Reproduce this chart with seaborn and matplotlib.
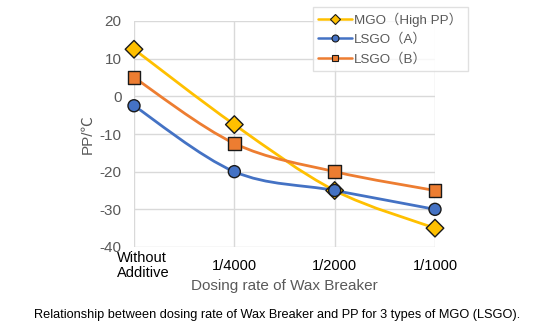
import numpy as np
import pandas as pd
import seaborn as sns
import matplotlib.pyplot as plt
import matplotlib.transforms as mtransforms
from matplotlib.path import Path
from matplotlib.patches import PathPatch
from matplotlib.lines import Line2D

categories = ["Without\nAdditive", "1/4000", "1/2000", "1/1000"]
mgo_high_pp = [12.5, -7.5, -25, -35]
lsgo_a = [-2.5, -20, -25, -30]
lsgo_b = [5, -12.5, -20, -25]
series_names = ["MGO（High PP）", "LSGO（A）", "LSGO（B）"]
y_ticks = [20, 10, 0, -10, -20, -30, -40]

colors = ["#FFC000", "#4472C4", "#ED7D31"]
markers = ["D", "o", "s"]
msizes = [80, 75, 80]

sns.set_theme(style="whitegrid")
plt.rcParams["font.family"] = ["Liberation Sans", "Noto Sans CJK JP", "DejaVu Sans"]
plt.rcParams["axes.unicode_minus"] = False

fig = plt.figure(figsize=(5.5, 3.3), dpi=100)
ax = fig.add_axes([134 / 550, 83 / 330, 301 / 550, 226 / 330])

x = np.arange(len(categories))
rows = []
for name, vals in zip(series_names, [mgo_high_pp, lsgo_a, lsgo_b]):
    for xi, v in zip(x, vals):
        rows.append({"x": xi, "PP": v, "series": name})
df = pd.DataFrame(rows)


def smooth_path(xs, ys):
    """Cubic Bezier path through the points (Catmull-Rom style smoothing)."""
    pts = np.column_stack([xs, ys]).astype(float)
    n = len(pts)
    verts = [pts[0]]
    codes = [Path.MOVETO]
    for i in range(n - 1):
        p0 = pts[i - 1] if i > 0 else pts[i]
        p1 = pts[i]
        p2 = pts[i + 1]
        p3 = pts[i + 2] if i + 2 < n else pts[i + 1]
        c1 = p1 + (p2 - p0) / 6.0
        c2 = p2 - (p3 - p1) / 6.0
        verts += [c1, c2, p2]
        codes += [Path.CURVE4] * 3
    return Path(verts, codes)


# smoothed connecting lines
for name, col in zip(series_names, colors):
    sub = df[df["series"] == name]
    patch = PathPatch(smooth_path(sub["x"].values, sub["PP"].values),
                      facecolor="none", edgecolor=col, lw=2.0, zorder=3,
                      clip_on=False)
    ax.add_patch(patch)

# point markers
sns.scatterplot(data=df, x="x", y="PP", hue="series", style="series",
                palette=colors, markers=markers, size="series",
                sizes=dict(zip(series_names, msizes)),
                edgecolor="#1a1a1a", linewidth=1.0, legend=False,
                zorder=4, clip_on=False, ax=ax)

ax.set_xlim(0, 3)
ax.set_ylim(-40, 20)
ax.set_xticks(x)
ax.set_xticklabels(categories, fontsize=10.5, color="black",
                   multialignment="left", va="center", linespacing=1.05)
ax.set_yticks(y_ticks)
ax.tick_params(axis="x", length=0, pad=13.5)
ax.tick_params(axis="y", length=0, pad=9, labelsize=11, labelcolor="#595959")
ax.grid(True, color="#d9d9d9", lw=1.0)
for s in ax.spines.values():
    s.set_visible(False)
ax.set_facecolor("white")

# nudge the two-line first category label to the right
first = ax.get_xticklabels()[0]
first.set_transform(first.get_transform() +
                    mtransforms.ScaledTranslation(9 / 100, 0, fig.dpi_scale_trans))

ax.set_xlabel("Dosing rate of Wax Breaker", fontsize=11, color="#595959",
              va="center")
ax.xaxis.set_label_coords(0.5, (247 - 286) / 226)
ax.set_ylabel("PP/℃", fontsize=11, color="#595959", va="center")
ax.yaxis.set_label_coords((88 - 134) / 301, 0.5)

handles = [Line2D([0], [0], color=c, lw=1.8, marker=m, markersize=5,
                  markerfacecolor=c, markeredgecolor="#1a1a1a",
                  markeredgewidth=0.8)
           for c, m in zip(colors, markers)]
leg = fig.legend(handles, series_names, loc="upper left",
                 bbox_to_anchor=(313 / 550, 1 - 7 / 330),
                 frameon=True, fancybox=False, fontsize=9.6,
                 handlelength=2.5, handletextpad=0.2, labelspacing=0.5,
                 borderpad=0.4, borderaxespad=0)
leg.get_frame().set_edgecolor("#d9d9d9")
leg.get_frame().set_linewidth(1.0)
for t in leg.get_texts():
    t.set_color("#595959")

fig.text(277 / 550, 1 - 315 / 330,
         "Relationship between dosing rate of Wax Breaker and PP for 3 types of MGO (LSGO).",
         ha="center", va="center", fontsize=9.2, color="black")

fig.savefig("out.png", dpi=100, facecolor="white")
